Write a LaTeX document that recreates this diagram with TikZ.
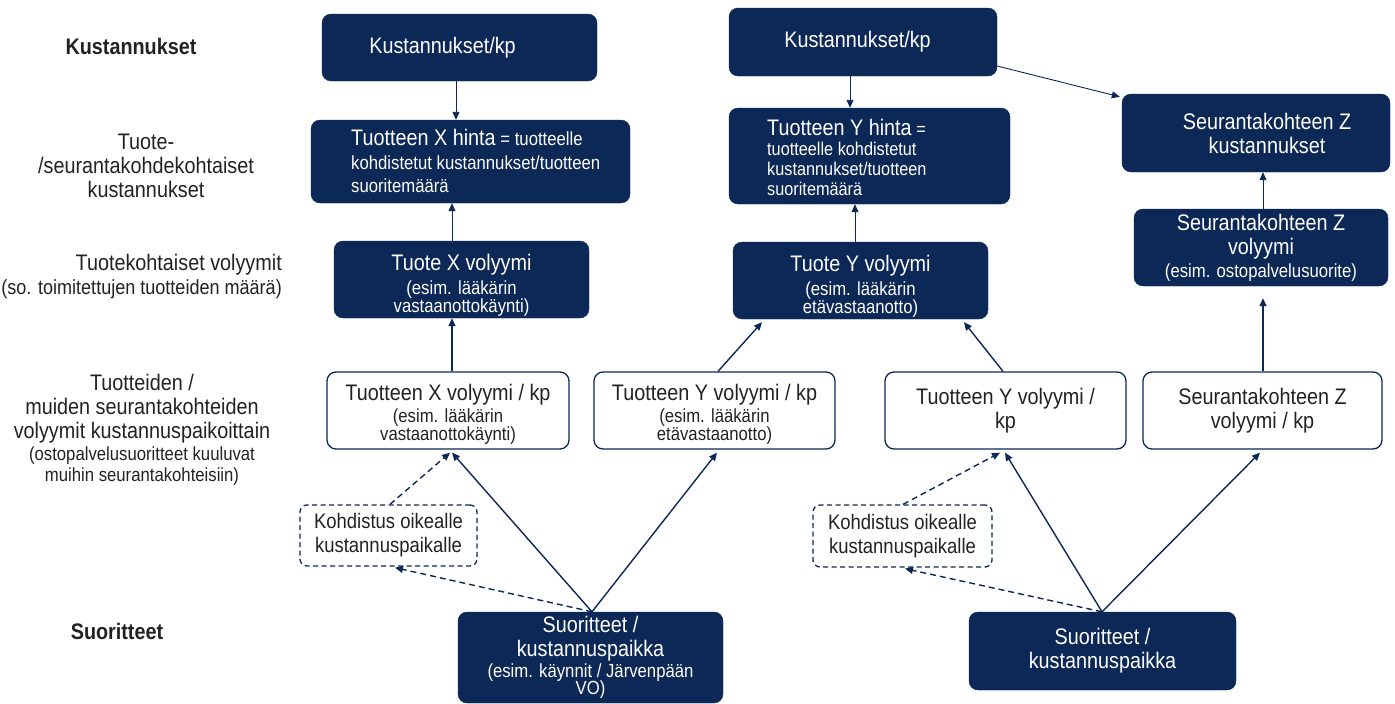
\documentclass[tikz,border=0pt]{standalone}
\usepackage{fontspec}
\setmainfont{Liberation Sans}[FakeStretch=0.88]
\usetikzlibrary{arrows.meta}
\definecolor{navy}{HTML}{0B2856}
\definecolor{ink}{HTML}{222222}
\newcommand{\bigf}{\fontsize{22.5}{24}\selectfont}
\newcommand{\smallf}{\fontsize{19}{20}\selectfont}
\newcommand{\lblsmall}{\fontsize{19}{21}\selectfont}
\newcommand{\pricef}{\fontsize{19}{23.5}\selectfont}
\newcommand{\pricefy}{\fontsize{18.5}{20}\selectfont}
\newcommand{\dashf}{\fontsize{21}{24}\selectfont}
\newcommand{\topstrut}[1]{\rule{0pt}{#1}}
\begin{document}
\begin{tikzpicture}[x=1pt,y=-1pt,
  darkbox/.style={fill=navy, draw=navy, rounded corners=9pt, text=white, align=center, inner sep=0pt, font=\bigf},
  lightbox/.style={fill=white, draw=navy, line width=1.3pt, rounded corners=9pt, text=ink, align=center, inner sep=0pt, font=\bigf},
  dashbox/.style={fill=white, draw=navy, dashed, dash pattern=on 5pt off 3.5pt, line width=1.3pt, rounded corners=7pt, text=ink, align=center, inner sep=0pt, font=\dashf},
  lbl/.style={text=ink, align=center, inner sep=0pt, font=\bigf},
  thinarr/.style={draw=navy, line width=0.9pt, -{Triangle[length=8pt,width=7pt]}},
  arr/.style={draw=navy, line width=1.4pt, -{Triangle[length=8pt,width=7pt]}},
  darr/.style={draw=navy, line width=1.4pt, dash pattern=on 6pt off 4pt, -{Triangle[length=8pt,width=7pt]}}
]
\useasboundingbox (0,0) rectangle (1395,704);

% left labels
\node[lbl, font=\bfseries\bigf] (l1) at (131,46) {Kustannukset};
\node[lbl] (l2) at (146,166) {Tuote-\\/seurantakohdekohtaiset\\kustannukset};
\node[lbl, align=right, anchor=east] (l3) at (282,276) {Tuotekohtaiset volyymit\\{\fontsize{20.5}{22}\selectfont (so. toimitettujen tuotteiden määrä)}};
\node[lbl, align=center] (l4) at (142,430) {Tuotteiden /\\muiden seurantakohteiden\\volyymit kustannuspaikoittain\\[-2pt]{\lblsmall (ostopalvelusuoritteet kuuluvat}\\[-3pt]{\lblsmall muihin seurantakohteisiin)}};
\node[lbl, font=\bfseries\bigf] (l5) at (117,631) {Suoritteet};

% top row
\node[darkbox, minimum width=275, minimum height=67] (k1) at (459.5,47.5) {Kustannukset/kp\hspace*{34pt}};
\node[darkbox, minimum width=268, minimum height=68] (k2) at (863,42) {Kustannukset/kp\hspace*{11pt}};

% price boxes
\node[darkbox, minimum width=319, minimum height=83] (px) at (470.5,161.5) {};
\node[anchor=west, text=white, align=left, inner sep=0pt, font=\pricef] (pxt) at (351,161) {{\bigf Tuotteen X hinta} = tuotteelle\\kohdistetut kustannukset/tuotteen\\suoritemäärä};
\node[darkbox, minimum width=281, minimum height=96] (py) at (869.5,156) {};
\node[anchor=west, text=white, align=left, inner sep=0pt, font=\pricefy] (pyt) at (767,157) {{\bigf Tuotteen Y hinta} =\\tuotteelle kohdistetut\\kustannukset/tuotteen\\suoritemäärä};
\node[darkbox, minimum width=268, minimum height=78] (zk) at (1256,133) {\hspace*{22pt}Seurantakohteen Z\\\hspace*{22pt}kustannukset};

% volume boxes
\node[darkbox, minimum width=255, minimum height=77] (vx) at (461.5,279.5) {\topstrut{27pt}Tuote X volyymi\\{\smallf (esim. lääkärin}\\[-6pt]{\smallf vastaanottokäynti)}};
\node[darkbox, minimum width=255, minimum height=77] (vy) at (860.5,280.5) {\topstrut{27pt}Tuote Y volyymi\\{\smallf (esim. lääkärin}\\[-6pt]{\smallf etävastaanotto)}};
\node[darkbox, minimum width=254, minimum height=77] (vz) at (1261,247.5) {Seurantakohteen Z\\volyymi\\[-1pt]{\smallf (esim. ostopalvelusuorite)}};

% per-kp volume boxes
\node[lightbox, minimum width=242, minimum height=77] (wx) at (448,410.5) {\topstrut{23pt}Tuotteen X volyymi / kp\\[-2pt]{\smallf (esim. lääkärin}\\[-6pt]{\smallf vastaanottokäynti)}};
\node[lightbox, minimum width=241, minimum height=77] (wy1) at (714.5,410.5) {\topstrut{23pt}Tuotteen Y volyymi / kp\\[-2pt]{\smallf (esim. lääkärin}\\[-6pt]{\smallf etävastaanotto)}};
\node[lightbox, minimum width=241, minimum height=77] (wy2) at (1005.5,410.5) {Tuotteen Y volyymi /\\kp};
\node[lightbox, minimum width=239, minimum height=77] (wz) at (1262.5,410.5) {Seurantakohteen Z\\volyymi / kp};

% dashed allocation boxes
\node[dashbox, minimum width=177, minimum height=61] (dx) at (388.5,535.5) {Kohdistus oikealle\\kustannuspaikalle};
\node[dashbox, minimum width=179, minimum height=62] (dy) at (902.5,536) {Kohdistus oikealle\\kustannuspaikalle};

% performance boxes
\node[darkbox, minimum width=265, minimum height=91] (sx) at (590.5,657.5) {Suoritteet /\\kustannuspaikka\\[-3pt]{\smallf (esim. käynnit / Järvenpään}\\[-7pt]{\smallf VO)}};
\node[darkbox, minimum width=267, minimum height=78] (sy) at (1102.5,651) {Suoritteet /\\kustannuspaikka};

% thin arrows (top)
\draw[thinarr] ([xshift=-3.5pt]k1.south) -- ([xshift=-3.5pt]k1.south |- px.north);
\draw[thinarr] ([xshift=-13pt]k2.south) -- ([xshift=-13pt]k2.south |- py.north);
\draw[thinarr] ([yshift=-24pt]k2.east) -- ([xshift=-2pt,yshift=-3pt]zk.north west);
\draw[thinarr] ([xshift=-9.5pt]vx.north) -- ([xshift=-9.5pt]vx.north |- px.south);
\draw[thinarr] ([xshift=-5.5pt]vy.north) -- ([xshift=-5.5pt]vy.north |- py.south);
\draw[thinarr] ([xshift=2pt]vz.north) -- ([xshift=2pt]vz.north |- zk.south);

% thick arrows (middle)
\draw[arr] ([xshift=4pt]wx.north) -- ([xshift=4pt]wx.north |- vx.south);
\draw[arr] ([xshift=3.5pt]wy1.north) -- ([xshift=-98.5pt,yshift=-3pt]vy.south);
\draw[arr] ([xshift=-2.5pt]wy2.north) -- ([xshift=103.5pt,yshift=-3pt]vy.south);
\draw[arr] ([xshift=0.5pt]wz.north) -- ([xshift=2pt,yshift=-12pt]vz.south);

% from performances
\coordinate (sxt) at ([xshift=1.5pt]sx.north);
\coordinate (syt) at ([xshift=-0.5pt]sy.north);
\draw[arr] (sxt) -- ([xshift=4pt,yshift=-3pt]wx.south);
\draw[arr] (sxt) -- ([xshift=2.5pt,yshift=-3pt]wy1.south);
\draw[darr] (sxt) -- ([xshift=6.5pt,yshift=-1pt]dx.south);
\draw[darr] ([xshift=1.5pt]dx.north) -- ([xshift=2pt,yshift=-3pt]wx.south);

\draw[arr] (syt) -- ([xshift=-0.5pt,yshift=-3pt]wy2.south);
\draw[arr] (syt) -- ([xshift=-2.5pt,yshift=-3pt]wz.south);
\draw[darr] (syt) -- ([xshift=2.5pt,yshift=-1pt]dy.south);
\draw[darr] ([xshift=0.5pt]dy.north) -- ([xshift=-5.5pt,yshift=-3pt]wy2.south);
\end{tikzpicture}
\end{document}
